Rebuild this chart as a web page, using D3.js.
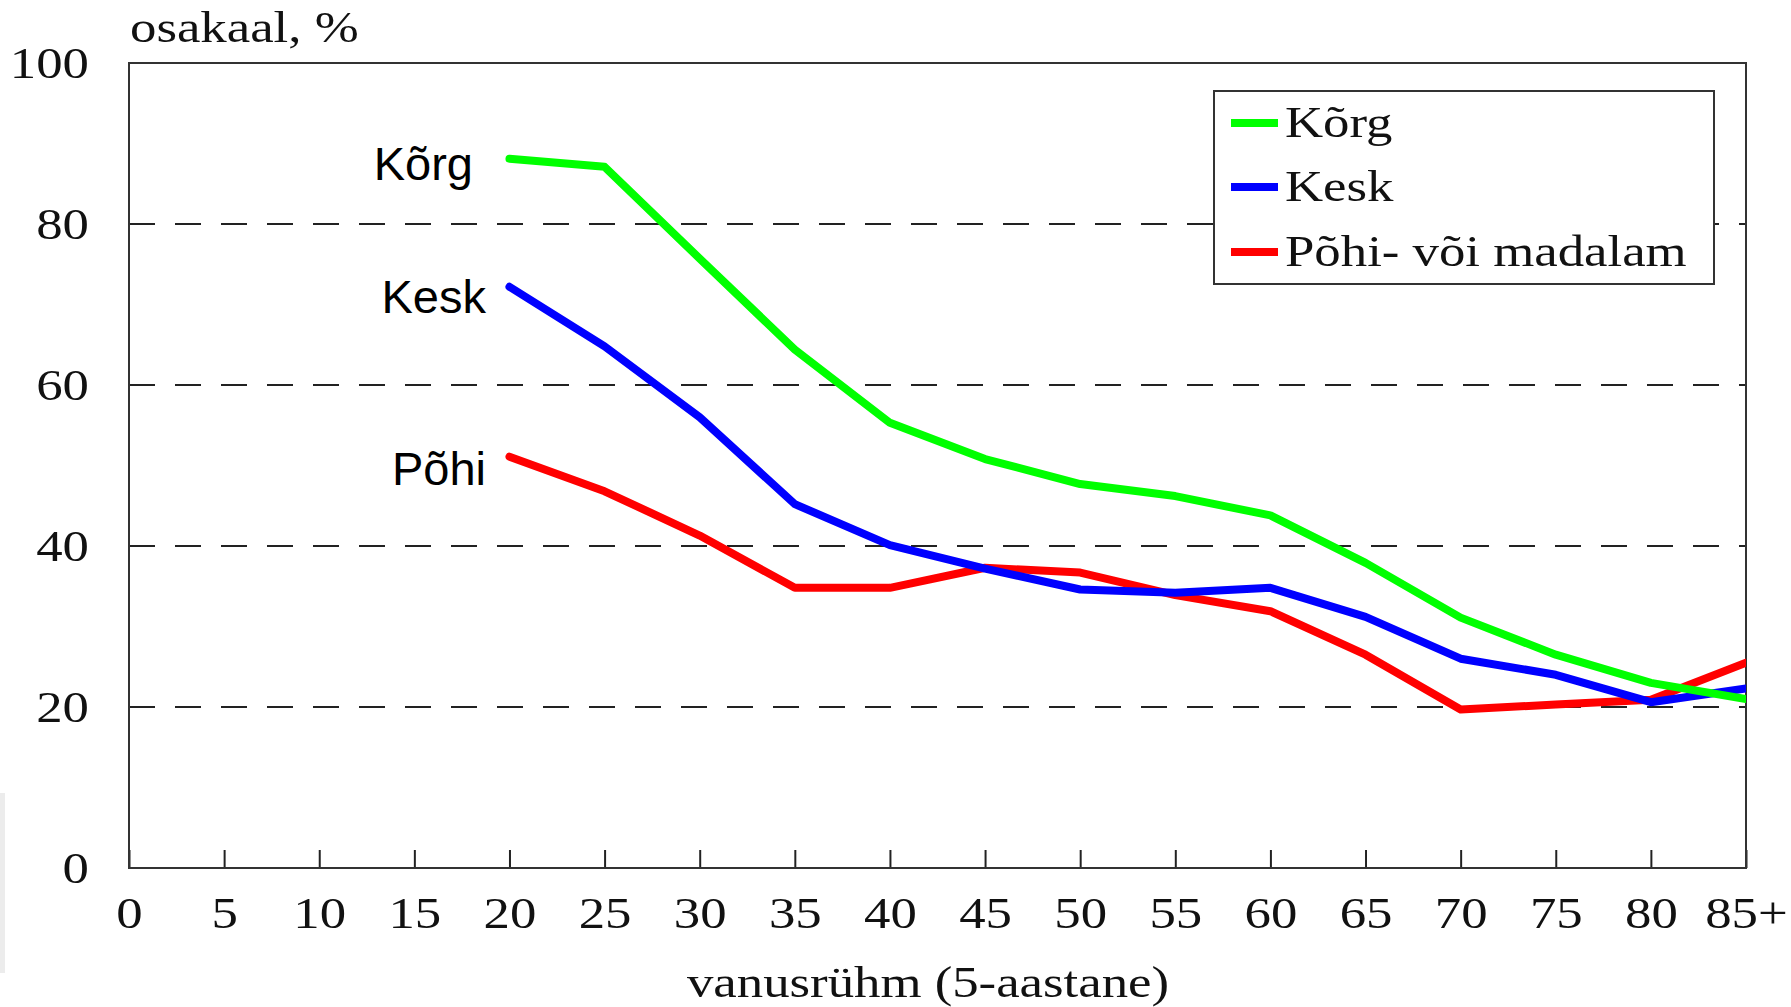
<!DOCTYPE html>
<html>
<head>
<meta charset="utf-8">
<script src="https://cdn.jsdelivr.net/npm/d3@7"></script>
<style>
    body { margin: 0; background: #fff; }
    .serif { font-family: "Liberation Serif", "Times New Roman", serif; font-size: 44px; fill: #111; }
    .sans { font-family: "Liberation Sans", Arial, sans-serif; font-size: 47px; fill: #000; }
</style>
</head>
<body>
<script>
//Age groups (5-year) and shares per education level, %
var ages = [20, 25, 30, 35, 40, 45, 50, 55, 60, 65, 70, 75, 80, 85];
var korg = [88.1, 87.1, 75.7, 64.4, 55.3, 50.8, 47.7, 46.2, 43.8, 37.9, 31.1, 26.5, 23.0, 21.0];
var kesk = [72.2, 64.8, 56.0, 45.2, 40.1, 37.2, 34.6, 34.2, 34.8, 31.2, 26.0, 24.0, 20.6, 22.3];
var pohi = [51.1, 46.8, 41.3, 34.8, 34.8, 37.3, 36.7, 33.9, 31.9, 26.5, 19.7, 20.3, 20.9, 25.5];
var xTicks = [0, 5, 10, 15, 20, 25, 30, 35, 40, 45, 50, 55, 60, 65, 70, 75, 80, 85];
var yTicks = [0, 20, 40, 60, 80, 100];
var gridValues = [20, 40, 60, 80];
var seriesNames = ['Kõrg', 'Kesk', 'Põhi- või madalam'];
var lineLabels = ['Kõrg', 'Kesk', 'Põhi'];
var seriesColors = ['#00ff00', '#0000ff', '#ff0000'];

function drawChart(){
    var width = 1791,
        height = 1007;
    //Serif text in the source is stretched sideways
    var stretch = 'scale(1.2,1)';

    var svg = d3.select('body')
        .append('svg')
        .attr('width', width)
        .attr('height', height);

    //Faint grey strip at the left edge of the scan
    svg.append('rect')
        .attr('x', 0).attr('y', 793)
        .attr('width', 5).attr('height', 180)
        .attr('fill', '#ececec');

    var x = d3.scaleLinear().domain([0, 85]).range([129, 1746]);
    var y = d3.scaleLinear().domain([0, 100]).range([868, 63]);

    //Dashed gridlines
    svg.selectAll('.grid')
        .data(gridValues)
        .enter()
        .append('line')
        .attr('class', 'grid')
        .attr('x1', x(0)).attr('x2', x(85))
        .attr('y1', function(d){ return y(d); })
        .attr('y2', function(d){ return y(d); })
        .attr('stroke', '#222')
        .attr('stroke-width', 2)
        .attr('stroke-dasharray', '26,20');

    //X axis with inward ticks
    var xAxis = svg.append('g')
        .attr('transform', 'translate(0,' + y(0) + ')')
        .call(d3.axisBottom(x)
            .tickValues(xTicks)
            .tickFormat(function(d){ return d === 85 ? '85+' : d; })
            .tickSizeInner(-18)
            .tickSizeOuter(0)
            .tickPadding(29));
    xAxis.select('.domain').remove();
    xAxis.selectAll('line').attr('stroke', '#222').attr('stroke-width', 2);
    xAxis.selectAll('text')
        .attr('class', 'serif')
        .attr('transform', stretch);

    //Y axis labels only
    var yAxis = svg.append('g')
        .attr('transform', 'translate(' + x(0) + ',0)')
        .call(d3.axisLeft(y).tickValues(yTicks).tickSize(0));
    yAxis.select('.domain').remove();
    yAxis.selectAll('text')
        .attr('class', 'serif')
        .attr('x', 0)
        .attr('transform', 'translate(-40,0) ' + stretch);

    //Plot frame
    svg.append('rect')
        .attr('x', x(0)).attr('y', y(100))
        .attr('width', x(85) - x(0))
        .attr('height', y(0) - y(100))
        .attr('fill', 'none')
        .attr('stroke', '#333')
        .attr('stroke-width', 2);

    svg.append('clipPath')
        .attr('id', 'plot-clip')
        .append('rect')
        .attr('x', x(0)).attr('y', y(100))
        .attr('width', x(85) - x(0))
        .attr('height', y(0) - y(100));

    var line = d3.line()
        .x(function(d, i){ return x(ages[i]); })
        .y(function(d){ return y(d); });

    //Red first, green on top
    var series = [korg, kesk, pohi];
    [2, 1, 0].forEach(function(k){
        svg.append('path')
            .datum(series[k])
            .attr('clip-path', 'url(#plot-clip)')
            .attr('fill', 'none')
            .attr('stroke', seriesColors[k])
            .attr('stroke-width', 8)
            .attr('stroke-linejoin', 'round')
            .attr('stroke-linecap', 'round')
            .attr('d', line);
    });

    //Labels at start of each line
    var labelBase = [180, 313, 485];
    var labelEnd = [473, 486, 486];
    lineLabels.forEach(function(t, k){
        svg.append('text')
            .attr('class', 'sans')
            .attr('x', labelEnd[k])
            .attr('y', labelBase[k])
            .attr('text-anchor', 'end')
            .text(t);
    });

    //Legend
    var legend = svg.append('g');
    legend.append('rect')
        .attr('x', 1214).attr('y', 91)
        .attr('width', 500).attr('height', 193)
        .attr('fill', '#fff')
        .attr('stroke', '#333')
        .attr('stroke-width', 2);
    var rowY = [123, 187, 252];
    seriesNames.forEach(function(name, k){
        legend.append('line')
            .attr('x1', 1231).attr('x2', 1278)
            .attr('y1', rowY[k]).attr('y2', rowY[k])
            .attr('stroke', seriesColors[k])
            .attr('stroke-width', 8);
        legend.append('text')
            .attr('class', 'serif')
            .attr('transform', 'translate(1285,' + (rowY[k] + 14) + ') ' + stretch)
            .text(name);
    });

    //Axis titles
    svg.append('text')
        .attr('class', 'serif')
        .attr('transform', 'translate(130,42) ' + stretch)
        .text('osakaal, %');
    svg.append('text')
        .attr('class', 'serif')
        .attr('text-anchor', 'middle')
        .attr('transform', 'translate(928,997) ' + stretch)
        .text('vanusrühm (5-aastane)');
}

window.onload = drawChart();
</script>
</body>
</html>
